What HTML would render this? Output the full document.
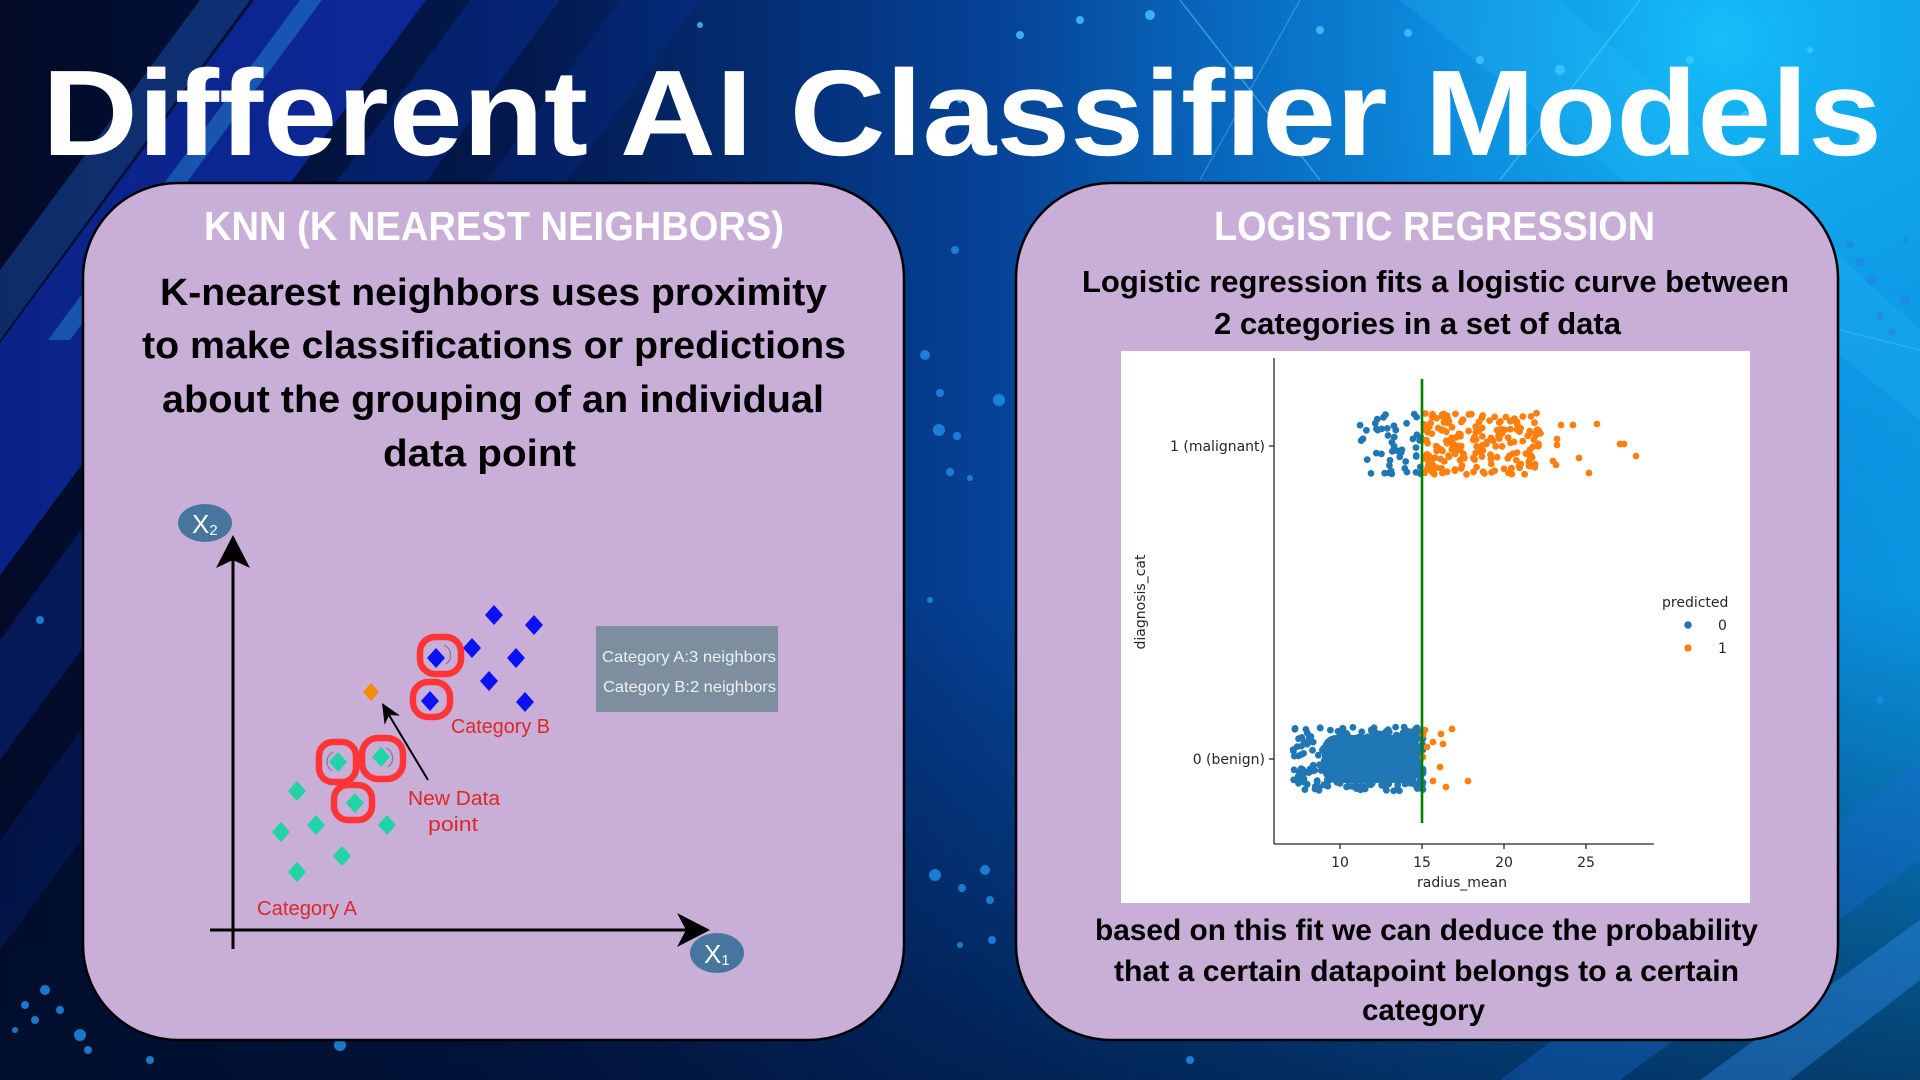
<!DOCTYPE html>
<html>
<head>
<meta charset="utf-8">
<style>
html,body{margin:0;padding:0;width:1920px;height:1080px;overflow:hidden;background:#031a4a;}
svg{display:block;}
</style>
</head>
<body>
<svg id="s" width="1920" height="1080" viewBox="0 0 1920 1080" xmlns="http://www.w3.org/2000/svg">
<defs>
  <linearGradient id="bgH" x1="0" y1="0" x2="1" y2="0">
    <stop offset="0" stop-color="#020a26"/>
    <stop offset="0.28" stop-color="#03194f"/>
    <stop offset="0.5" stop-color="#053f92"/>
    <stop offset="0.75" stop-color="#0870c8"/>
    <stop offset="1" stop-color="#0a96e0"/>
  </linearGradient>
  <radialGradient id="glow" cx="1720" cy="40" r="720" gradientUnits="userSpaceOnUse">
    <stop offset="0" stop-color="#18c8ff" stop-opacity="0.85"/>
    <stop offset="0.5" stop-color="#10a0ee" stop-opacity="0.4"/>
    <stop offset="1" stop-color="#0a80d8" stop-opacity="0"/>
  </radialGradient>
  <linearGradient id="bgV" x1="0" y1="0" x2="0" y2="1">
    <stop offset="0" stop-color="#001030" stop-opacity="0"/>
    <stop offset="0.55" stop-color="#001030" stop-opacity="0"/>
    <stop offset="1" stop-color="#001030" stop-opacity="0.65"/>
  </linearGradient>
</defs>

<!-- background -->
<rect width="1920" height="1080" fill="url(#bgH)"/>
<rect width="1920" height="1080" fill="url(#glow)"/>
<rect width="1920" height="1080" fill="url(#bgV)"/>
<!-- diagonal streaks -->
<polygon points="254,0 426,0 0,575 0,343" fill="#1438d8" opacity="0.55"/>
<polygon points="200,0 250,0 0,340 0,270" fill="#2a7cff" opacity="0.3"/>
<polygon points="300,0 322,0 70,340 48,340" fill="#39c0ff" opacity="0.3"/>
<polygon points="470,0 560,0 0,760 0,640" fill="#0b3fd0" opacity="0.28"/>
<polygon points="620,0 700,0 0,950 0,840" fill="#0a36b8" opacity="0.2"/>
<polygon points="1500,1080 1920,760 1920,860 1620,1080" fill="#1a6ad8" opacity="0.35"/>
<polygon points="1700,1080 1920,920 1920,980 1790,1080" fill="#3a9cff" opacity="0.35"/>
<polygon points="1400,0 1560,0 1920,330 1920,420" fill="#30c8ff" opacity="0.18"/>
<line x1="1180" y1="0" x2="1320" y2="180" stroke="#5fd0ff" stroke-width="1.5" opacity="0.5"/>
<line x1="1640" y1="0" x2="1500" y2="180" stroke="#5fd0ff" stroke-width="1.5" opacity="0.5"/>
<line x1="1300" y1="0" x2="1200" y2="180" stroke="#5fd0ff" stroke-width="1.2" opacity="0.4"/>
<line x1="1840" y1="330" x2="1920" y2="350" stroke="#5fd0ff" stroke-width="1.2" opacity="0.4"/>
<!-- bg dots -->
<g fill="#1e8be6" opacity="0.85">
  <circle cx="955" cy="250" r="4"/><circle cx="925" cy="355" r="5"/><circle cx="940" cy="393" r="4"/>
  <circle cx="939" cy="430" r="6"/><circle cx="957" cy="436" r="4"/><circle cx="950" cy="472" r="4"/>
  <circle cx="970" cy="478" r="3"/><circle cx="999" cy="400" r="6"/><circle cx="930" cy="600" r="3"/>
  <circle cx="985" cy="870" r="5"/><circle cx="962" cy="888" r="4"/><circle cx="990" cy="900" r="4"/>
  <circle cx="960" cy="945" r="3"/><circle cx="935" cy="875" r="6"/><circle cx="992" cy="940" r="4"/>
  <circle cx="1860" cy="262" r="5"/><circle cx="1872" cy="280" r="6"/><circle cx="1905" cy="300" r="5"/>
  <circle cx="1880" cy="316" r="4"/><circle cx="1892" cy="332" r="4"/><circle cx="1880" cy="700" r="4"/>
  <circle cx="1905" cy="240" r="3"/><circle cx="1850" cy="245" r="4"/>
  <circle cx="25" cy="1005" r="4"/><circle cx="45" cy="990" r="5"/><circle cx="60" cy="1010" r="4"/>
  <circle cx="35" cy="1020" r="4"/><circle cx="80" cy="1035" r="6"/><circle cx="88" cy="1050" r="4"/>
  <circle cx="15" cy="1030" r="3"/><circle cx="40" cy="620" r="4"/><circle cx="150" cy="1060" r="4"/>
  <circle cx="340" cy="1045" r="6"/><circle cx="1190" cy="1060" r="4"/>
</g>
<g fill="#45c8ff" opacity="0.8">
  <circle cx="1080" cy="20" r="4"/><circle cx="1150" cy="15" r="5"/><circle cx="1320" cy="30" r="4"/>
  <circle cx="1480" cy="60" r="4"/><circle cx="1560" cy="70" r="5"/><circle cx="1690" cy="60" r="4"/>
  <circle cx="1745" cy="115" r="4"/><circle cx="700" cy="25" r="3"/><circle cx="1020" cy="35" r="4"/>
  <circle cx="1408" cy="33" r="4"/><circle cx="1810" cy="50" r="3"/><circle cx="1860" cy="140" r="4"/>
  <circle cx="1040" cy="120" r="3"/><circle cx="960" cy="100" r="3"/>
</g>

<!-- Title -->
<text x="42" y="155" font-family="Liberation Sans, Arial, sans-serif" font-weight="bold" font-size="122" fill="#ffffff" textLength="1840" lengthAdjust="spacingAndGlyphs">Different AI Classifier Models</text>

<!-- Panels -->
<rect x="83" y="183" width="821" height="857" rx="95" ry="95" fill="#c9aed8" stroke="#000" stroke-width="2.5"/>
<rect x="1016" y="183" width="822" height="857" rx="95" ry="95" fill="#c9aed8" stroke="#000" stroke-width="2.5"/>

<!-- Left panel text -->
<g font-family="Liberation Sans, Arial, sans-serif" font-weight="bold">
  <text x="204" y="240" font-size="41" fill="#ffffff" textLength="580" lengthAdjust="spacingAndGlyphs">KNN (K NEAREST NEIGHBORS)</text>
  <text x="160" y="305" font-size="38" fill="#000" textLength="667" lengthAdjust="spacingAndGlyphs">K-nearest neighbors uses proximity</text>
  <text x="142" y="358" font-size="38" fill="#000" textLength="704" lengthAdjust="spacingAndGlyphs">to make classifications or predictions</text>
  <text x="162" y="412" font-size="38" fill="#000" textLength="662" lengthAdjust="spacingAndGlyphs">about the grouping of an individual</text>
  <text x="383" y="466" font-size="38" fill="#000" textLength="193" lengthAdjust="spacingAndGlyphs">data point</text>
</g>

<!-- KNN diagram -->
<g>
  <!-- axes -->
  <line x1="233" y1="949" x2="233" y2="558" stroke="#000" stroke-width="3"/>
  <polygon points="233,535 216,568 233,560 250,568" fill="#000"/>
  <line x1="210" y1="930" x2="690" y2="930" stroke="#000" stroke-width="3"/>
  <polygon points="710,930 677,913 686,930 677,947" fill="#000"/>
  <ellipse cx="205" cy="523" rx="27" ry="19" fill="#46759e"/>
  <text x="192" y="533" font-family="Liberation Sans, Arial, sans-serif" font-size="26" fill="#ffffff">X<tspan font-size="15" dy="2">2</tspan></text>
  <ellipse cx="717" cy="953" rx="27" ry="20" fill="#46759e"/>
  <text x="704" y="963" font-family="Liberation Sans, Arial, sans-serif" font-size="26" fill="#ffffff">X<tspan font-size="15" dy="2">1</tspan></text>

  <!-- teal diamonds -->
  <g fill="#20d4a6">
    <polygon points="297,781 306,791 297,801 288,791"/>
    <polygon points="338,752 347,762 338,772 329,762"/>
    <polygon points="381,747 390,757 381,767 372,757"/>
    <polygon points="355,793 364,803 355,813 346,803"/>
    <polygon points="281,822 290,832 281,842 272,832"/>
    <polygon points="316,815 325,825 316,835 307,825"/>
    <polygon points="387,815 396,825 387,835 378,825"/>
    <polygon points="342,846 351,856 342,866 333,856"/>
    <polygon points="297,862 306,872 297,882 288,872"/>
  </g>
  <!-- blue diamonds -->
  <g fill="#0a12f5">
    <polygon points="494,605 503,615 494,625 485,615"/>
    <polygon points="534,615 543,625 534,635 525,625"/>
    <polygon points="472,638 481,648 472,658 463,648"/>
    <polygon points="436,648 445,658 436,668 427,658"/>
    <polygon points="516,648 525,658 516,668 507,658"/>
    <polygon points="489,671 498,681 489,691 480,681"/>
    <polygon points="430,691 439,701 430,711 421,701"/>
    <polygon points="525,692 534,702 525,712 516,702"/>
  </g>
  <!-- orange new point -->
  <polygon points="371,683 379,692 371,701 363,692" fill="#f28c00"/>
  <!-- thin rings (partial) -->
  <g fill="none" stroke="#333" stroke-width="1.2" opacity="0.45">
    <path d="M444,645 A11,11 0 0 1 446,664"/>
    <path d="M333,752 A11,11 0 0 0 332,771"/>
    <path d="M386,748 A11,11 0 0 1 388,767"/>
  </g>
  <!-- red loops -->
  <g fill="none" stroke="#ff3434" stroke-width="6.5">
    <rect x="420" y="637" width="41" height="37" rx="15"/>
    <rect x="413" y="682" width="37" height="35" rx="15"/>
    <rect x="319" y="742" width="37" height="40" rx="14"/>
    <rect x="362" y="738" width="41" height="41" rx="16"/>
    <rect x="334" y="785" width="38" height="35" rx="14"/>
  </g>
  <!-- pointer arrow -->
  <line x1="428" y1="780" x2="389" y2="715" stroke="#000" stroke-width="2"/>
  <polygon points="382,703 400,715.6 389.2,715 384.6,724.8" fill="#000"/>

  <g font-family="Liberation Sans, Arial, sans-serif" font-size="20" fill="#dc2828">
    <text x="451" y="733" textLength="99" lengthAdjust="spacingAndGlyphs">Category B</text>
    <text x="408" y="805" textLength="92" lengthAdjust="spacingAndGlyphs">New Data</text>
    <text x="428" y="831" textLength="50" lengthAdjust="spacingAndGlyphs">point</text>
    <text x="257" y="915" textLength="100" lengthAdjust="spacingAndGlyphs">Category A</text>
  </g>
  <rect x="596" y="626" width="182" height="86" fill="#7d8f9e"/>
  <g font-family="Liberation Sans, Arial, sans-serif" font-size="16" fill="#eef0f4">
    <text x="602" y="662" textLength="174" lengthAdjust="spacingAndGlyphs">Category A:3 neighbors</text>
    <text x="603" y="692" textLength="173" lengthAdjust="spacingAndGlyphs">Category B:2 neighbors</text>
  </g>
</g>

<!-- Right panel text -->
<g font-family="Liberation Sans, Arial, sans-serif" font-weight="bold">
  <text x="1214" y="240" font-size="41" fill="#ffffff" textLength="441" lengthAdjust="spacingAndGlyphs">LOGISTIC REGRESSION</text>
  <text x="1082" y="292" font-size="31" fill="#000" textLength="707" lengthAdjust="spacingAndGlyphs">Logistic regression fits a logistic curve between</text>
  <text x="1214" y="334" font-size="31" fill="#000" textLength="407" lengthAdjust="spacingAndGlyphs">2 categories in a set of data</text>
  <text x="1095" y="940" font-size="30" fill="#000" textLength="663" lengthAdjust="spacingAndGlyphs">based on this fit we can deduce the probability</text>
  <text x="1114" y="981" font-size="30" fill="#000" textLength="625" lengthAdjust="spacingAndGlyphs">that a certain datapoint belongs to a certain</text>
  <text x="1362" y="1020" font-size="30" fill="#000" textLength="123" lengthAdjust="spacingAndGlyphs">category</text>
</g>

<!-- Chart -->
<rect x="1121" y="351" width="629" height="552" fill="#ffffff"/>
<g id="pts">
  <!-- benign dense backing -->
  <rect x="1322" y="735" width="98" height="48" rx="14" fill="#1f77b4"/>
</g>
<g fill="#ff7f0e">
  <circle cx="1561" cy="425" r="3.4"/><circle cx="1573" cy="425" r="3.4"/><circle cx="1597" cy="424" r="3.4"/>
  <circle cx="1557" cy="439" r="3.4"/><circle cx="1557" cy="445" r="3.4"/><circle cx="1620" cy="444" r="3.4"/>
  <circle cx="1624" cy="444" r="3.4"/><circle cx="1636" cy="456" r="3.4"/><circle cx="1579" cy="458" r="3.4"/>
  <circle cx="1553" cy="461" r="3.4"/><circle cx="1556" cy="465" r="3.4"/><circle cx="1589" cy="473" r="3.4"/>
  <circle cx="1538" cy="430" r="3.4"/><circle cx="1530" cy="457" r="3.4"/>
  <circle cx="1425" cy="730" r="3.4"/><circle cx="1441" cy="734" r="3.4"/><circle cx="1452" cy="729" r="3.4"/>
  <circle cx="1433" cy="742" r="3.4"/><circle cx="1443" cy="744" r="3.4"/><circle cx="1427" cy="747" r="3.4"/>
  <circle cx="1440" cy="767" r="3.4"/><circle cx="1433" cy="781" r="3.4"/><circle cx="1446" cy="787" r="3.4"/>
  <circle cx="1468" cy="781" r="3.4"/><circle cx="1423" cy="757" r="3.4"/><circle cx="1423" cy="735" r="3.4"/>
</g>
<line x1="1422" y1="379" x2="1422" y2="823" stroke="#008000" stroke-width="2.6"/>
<g stroke="#262626" stroke-width="1.3">
  <line x1="1274" y1="358" x2="1274" y2="844"/>
  <line x1="1274" y1="844" x2="1654" y2="844"/>
  <line x1="1269" y1="446" x2="1274" y2="446"/>
  <line x1="1269" y1="759" x2="1274" y2="759"/>
  <line x1="1340" y1="844" x2="1340" y2="849"/>
  <line x1="1422" y1="844" x2="1422" y2="849"/>
  <line x1="1504" y1="844" x2="1504" y2="849"/>
  <line x1="1586" y1="844" x2="1586" y2="849"/>
</g>
<g font-family="DejaVu Sans, Liberation Sans, sans-serif" font-size="14" fill="#262626">
  <text x="1265" y="451" text-anchor="end">1 (malignant)</text>
  <text x="1265" y="764" text-anchor="end">0 (benign)</text>
  <text x="1340" y="867" text-anchor="middle">10</text>
  <text x="1422" y="867" text-anchor="middle">15</text>
  <text x="1504" y="867" text-anchor="middle">20</text>
  <text x="1586" y="867" text-anchor="middle">25</text>
  <text x="1462" y="887" text-anchor="middle">radius_mean</text>
  <text x="0" y="0" text-anchor="middle" transform="translate(1145,602) rotate(-90)">diagnosis_cat</text>
  <text x="1662" y="607">predicted</text>
  <text x="1718" y="630">0</text>
  <text x="1718" y="653">1</text>
</g>
<circle cx="1688" cy="625" r="3.7" fill="#1f77b4"/>
<circle cx="1688" cy="648" r="3.7" fill="#ff7f0e"/>

<script>
(function(){
  var seed=12345;
  function r(){seed|=0;seed=seed+0x6D2B79F5|0;var t=Math.imul(seed^seed>>>15,1|seed);t=t+Math.imul(t^t>>>7,61|t)^t;return((t^t>>>14)>>>0)/4294967296;}
  var g=document.getElementById('pts');
  var ns='http://www.w3.org/2000/svg';
  function dot(x,y,c){var e=document.createElementNS(ns,'circle');e.setAttribute('cx',x.toFixed(1));e.setAttribute('cy',y.toFixed(1));e.setAttribute('r','3.4');e.setAttribute('fill',c);g.appendChild(e);}
  var i;
  // benign blue
  for(i=0;i<330;i++){var x=1423-130*Math.pow(r(),1.6);var y=759+(r()-0.5)*64;dot(x,y,'#1f77b4');}
  // malignant blue
  for(i=0;i<50;i++){var x=1421-66*Math.pow(r(),1.4);var y=444+(r()-0.5)*60;dot(x,y,'#1f77b4');}
  // malignant orange
  for(i=0;i<190;i++){var x=1424+118*Math.pow(r(),1.3);var y=444+(r()-0.5)*62;dot(x,y,'#ff7f0e');}
})();
</script>
</svg>
</body>
</html>
